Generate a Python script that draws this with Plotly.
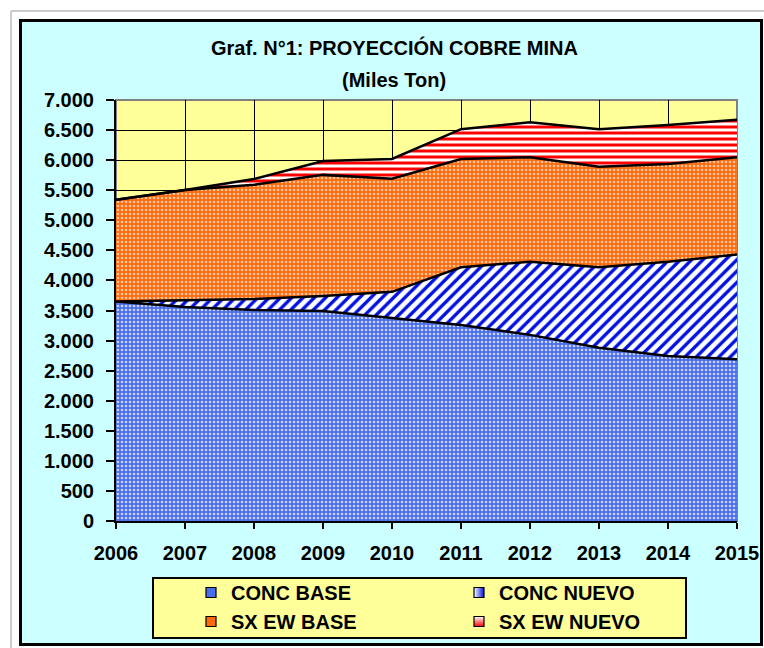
import plotly.graph_objects as go

# ---------------- data (thousand tonnes) ----------------
years = [2006, 2007, 2008, 2009, 2010, 2011, 2012, 2013, 2014, 2015]
conc_base = [3650, 3560, 3510, 3490, 3375, 3260, 3095, 2880, 2745, 2690]
conc_nuevo = [0, 110, 180, 250, 435, 960, 1215, 1340, 1565, 1740]
sxew_base = [1690, 1835, 1900, 2015, 1880, 1800, 1740, 1670, 1625, 1620]
sxew_nuevo = [0, 0, 95, 230, 330, 495, 580, 625, 650, 620]

series_names = ["CONC BASE", "CONC NUEVO", "SX EW BASE", "SX EW NUEVO"]
title_line1 = "Graf. N°1: PROYECCIÓN COBRE MINA"
title_line2 = "(Miles Ton)"

# ---------------- layout geometry (pixels) ----------------
W, H = 764, 648
PL, PR, PT, PB = 116, 737, 100, 521  # plot area in pixels


def px(x):
    return (x - PL) / (PR - PL)


def py(y):
    return (PB - y) / (PB - PT)


FONT = dict(family="Liberation Sans, Arial, sans-serif", size=20, color="black", weight="bold")

patterns = [
    dict(shape=".", bgcolor="#4A6EEA", fgcolor="#C9D5FF", size=4, solidity=0.35, fillmode="replace"),
    dict(shape="/", bgcolor="white", fgcolor="#0010E0", size=8, solidity=0.42, fillmode="replace"),
    dict(shape=".", bgcolor="#FF6A0E", fgcolor="#FFC9A0", size=4, solidity=0.35, fillmode="replace"),
    dict(shape="-", bgcolor="white", fgcolor="#FF0000", size=6, solidity=0.5, fillmode="replace"),
]
values = [conc_base, conc_nuevo, sxew_base, sxew_nuevo]

fig = go.Figure()
for name, vals, pat in zip(series_names, values, patterns):
    fig.add_trace(go.Scatter(
        x=years, y=vals, name=name, mode="lines", stackgroup="one",
        line=dict(color="black", width=2.5), fillpattern=pat,
        showlegend=False, hoverinfo="x+y+name",
    ))

# legend-only entries (small square icons)
legend_markers = [
    dict(color="#4A6EEA"),
    dict(color="white", gradient=dict(type="horizontal", color="#0010E0")),
    dict(color="#FF6A0E"),
    dict(color="white", gradient=dict(type="vertical", color="#FF0000")),
]
for name, mk in zip(series_names, legend_markers):
    fig.add_trace(go.Scatter(
        x=[None], y=[None], name=name, mode="markers",
        marker=dict(symbol="square", size=10, line=dict(color="black", width=1.2), **mk),
        showlegend=True,
    ))

shapes = [
    # outer thin gray frame
    dict(type="rect", xref="paper", yref="paper", x0=px(11), x1=px(800), y0=py(11), y1=py(700),
         line=dict(color="#9A9A9A", width=1), fillcolor="white", layer="below"),
    # chart area
    dict(type="rect", xref="paper", yref="paper", x0=px(20.5), x1=px(761.5), y0=py(20.5), y1=py(644.5),
         line=dict(color="black", width=3), fillcolor="#CCFFFF", layer="below"),
    # plot area
    dict(type="rect", xref="paper", yref="paper", x0=0, x1=1, y0=0, y1=1,
         line=dict(color="#808080", width=2), fillcolor="#FFFF99", layer="below"),
    # legend box
    dict(type="rect", xref="paper", yref="paper", x0=px(153), x1=px(686), y0=py(578), y1=py(638),
         line=dict(color="black", width=2), fillcolor="#FFFF99", layer="below"),
]

annotations = [
    dict(text=title_line1, xref="paper", yref="paper", x=px(394), y=py(47), xanchor="center",
         yanchor="middle", showarrow=False, font=dict(FONT, size=20)),
    dict(text=title_line2, xref="paper", yref="paper", x=px(394), y=py(80), xanchor="center",
         yanchor="middle", showarrow=False, font=dict(FONT, size=20)),
]

fig.update_layout(
    width=W, height=H,
    margin=dict(l=PL, r=W - PR, t=PT, b=H - PB, autoexpand=False),
    paper_bgcolor="white", plot_bgcolor="rgba(0,0,0,0)",
    separators=",.",
    font=FONT,
    shapes=shapes, annotations=annotations,
    showlegend=True,
    legend=dict(
        orientation="h", x=px(191), y=py(573), xanchor="left", yanchor="top",
        bgcolor="rgba(0,0,0,0)", borderwidth=0, traceorder="normal",
        entrywidth=223, entrywidthmode="pixels", font=FONT,
    ),
    xaxis=dict(
        range=[years[0], years[-1]], tickmode="array", tickvals=years, ticktext=[str(y) for y in years],
        showgrid=True, gridcolor="black", gridwidth=1,
        showline=True, linecolor="black", linewidth=2,
        ticks="outside", ticklen=6, tickwidth=1.5, tickcolor="black",
        ticklabelstandoff=7, tickfont=FONT, zeroline=False,
    ),
    yaxis=dict(
        range=[0, 7000], tickmode="linear", tick0=0, dtick=500, tickformat=",d",
        showgrid=True, gridcolor="black", gridwidth=1,
        showline=True, linecolor="black", linewidth=2,
        ticks="outside", ticklen=8, tickwidth=1.5, tickcolor="black",
        ticklabelstandoff=8, tickfont=FONT, zeroline=False,
    ),
)

fig.write_html(
    "out.html",
    config={"displayModeBar": False},
    post_script="document.body.style.margin='0px';document.body.style.overflow='hidden';",
)
